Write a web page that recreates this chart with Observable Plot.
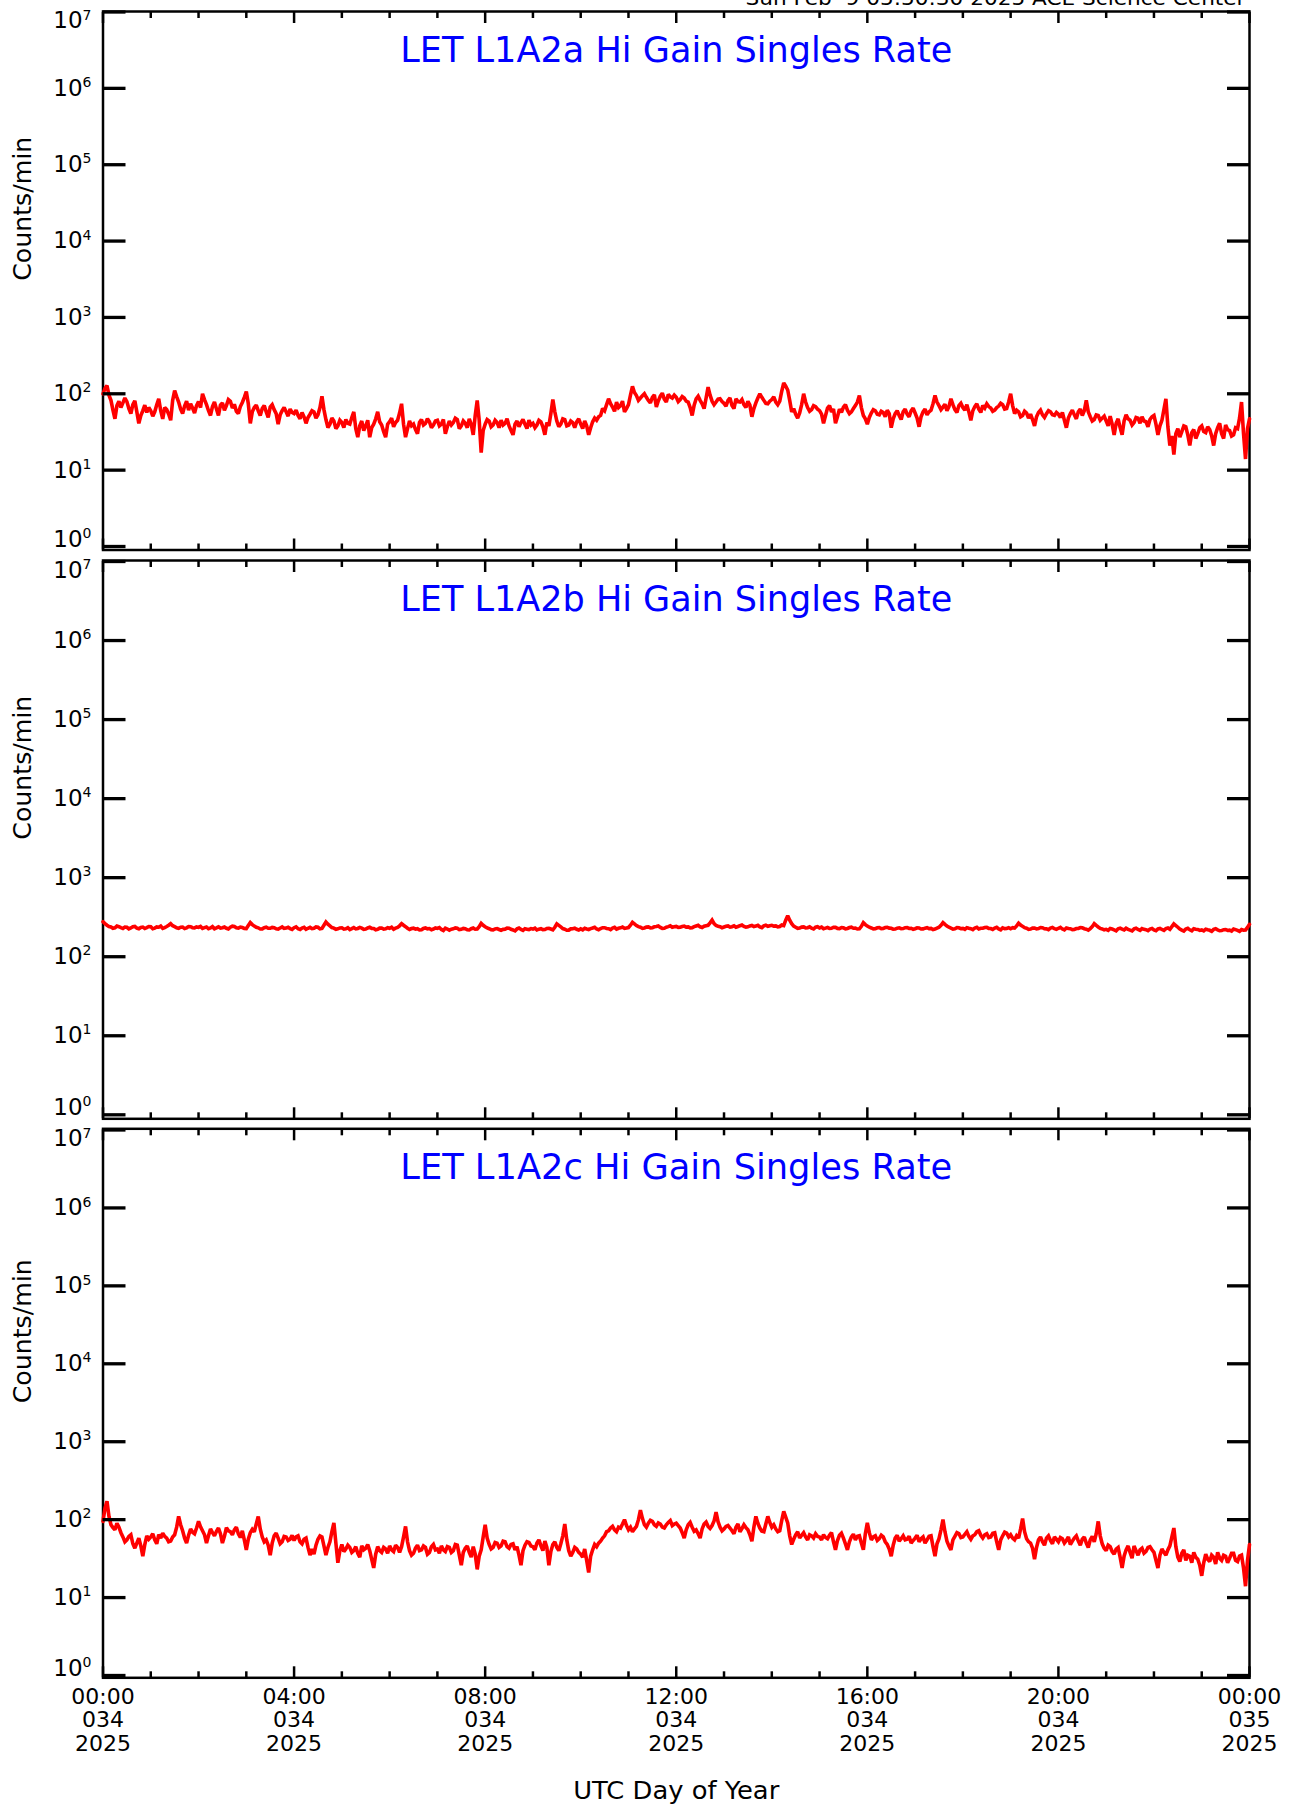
<!DOCTYPE html>
<html><head><meta charset="utf-8">
<script src="https://cdn.jsdelivr.net/npm/d3@7"></script>
<script src="https://cdn.jsdelivr.net/npm/@observablehq/plot@0.6"></script>
<style>
html,body{margin:0;padding:0;background:#fff;}
#page{position:relative;width:1300px;height:1806px;overflow:hidden;background:#fff;}
#page svg{position:absolute;left:0;}
</style></head><body><div id="page"></div>
<script>
const panelTitles = ["LET L1A2a Hi Gain Singles Rate","LET L1A2b Hi Gain Singles Rate","LET L1A2c Hi Gain Singles Rate"];
const headerText = "Sun Feb  9 05:50:30 2025 ACE Science Center";
const yLabel = "Counts/min";
const xLabel = "UTC Day of Year";
const yTickExponents = [0,1,2,3,4,5,6,7];
const majorHours = [0,4,8,12,16,20,24];
const minorHours = [1,2,3,5,6,7,9,10,11,13,14,15,17,18,19,21,22,23];
const timeLabels = ["00:00","04:00","08:00","12:00","16:00","20:00","00:00"];
const dayLabels = ["034","034","034","034","034","034","035"];
const yearLabels = ["2025","2025","2025","2025","2025","2025","2025"];
const spanHours = 24;

// LET L1A2a, 2.5-minute samples (24 per row = 1 hour) from 00:00 day 034 to 00:00 day 035
const rateA = [
100,118,128,96,82,61,47,70,80,66,76,88,79,64,55,72,81,58,41,52,60,71,57,66,
60,51,58,72,86,60,47,66,62,54,45,82,110,92,78,63,55,69,80,61,74,65,56,70,
79,66,100,84,72,60,52,68,78,63,52,71,76,61,70,84,80,65,73,59,55,68,77,90,
107,74,41,58,66,71,60,52,64,70,58,49,67,72,62,55,40,53,60,66,58,51,63,57,
55,61,52,47,57,50,41,49,54,60,58,48,53,66,93,62,46,36,40,48,44,35,38,45,
42,36,46,41,40,49,58,35,27,38,44,33,38,45,27,36,40,47,58,43,39,32,27,40,
43,48,37,42,45,56,74,40,27,35,44,38,40,34,30,42,46,39,41,47,43,36,39,44,
45,38,40,46,30,37,44,39,42,48,46,35,38,44,41,36,47,40,29,52,82,45,17,33,
40,46,44,37,39,45,42,36,45,39,41,47,38,33,29,40,44,37,42,46,40,35,45,39,
41,36,39,45,43,37,29,42,38,55,84,58,44,37,40,47,46,38,39,44,42,36,43,47,
40,35,44,38,29,36,43,48,45,50,52,64,60,72,86,74,67,59,78,66,70,80,58,64,
72,96,125,104,95,82,88,94,100,90,82,76,90,97,67,81,93,102,85,78,98,91,88,96,
90,79,84,92,88,80,78,66,52,71,86,93,82,74,64,88,122,96,80,72,78,85,86,79,
75,69,82,88,70,64,86,79,78,84,72,66,80,71,50,64,76,88,100,90,82,75,74,80,
84,91,78,72,80,108,139,126,112,82,58,64,54,48,56,72,100,78,66,59,62,70,68,63,
60,54,41,52,65,70,58,63,41,50,63,57,67,72,61,55,58,64,70,78,95,66,52,47,
40,49,56,62,60,54,53,59,57,50,61,55,36,47,55,60,52,46,58,63,54,50,60,65,
56,48,37,50,58,63,53,58,61,74,95,78,70,62,67,73,60,68,86,72,62,57,70,75,
66,61,72,58,45,60,68,74,63,57,70,65,74,68,65,59,61,66,69,75,72,63,64,78,
100,70,55,61,58,50,52,59,56,48,54,46,38,50,57,61,53,49,55,60,58,53,52,57,
54,49,57,45,36,48,55,61,53,47,58,63,52,60,82,58,50,44,46,53,52,45,48,51,
44,38,51,40,29,41,47,36,29,44,53,47,45,39,42,49,48,41,50,44,43,37,46,50,
52,40,29,38,45,62,86,37,21,28,16,30,35,27,32,38,37,29,21,31,34,26,30,36,
38,32,31,37,34,28,21,30,36,41,30,26,39,34,33,28,29,36,35,48,78,30,14,35,
47];

// LET L1A2b
const rateB = [
277,262,250,241,238,229,232,244,240,233,228,237,236,225,231,239,242,230,226,235,237,228,233,241,
239,226,230,238,236,244,228,234,241,250,262,247,240,232,229,236,237,227,232,241,240,233,231,238,
235,242,228,233,238,226,231,240,226,232,239,230,233,238,229,224,236,243,241,232,230,237,234,228,
227,248,270,255,244,236,232,224,225,233,236,229,229,235,233,226,224,231,238,228,230,236,227,222,
233,239,226,221,231,236,222,229,235,227,229,238,236,225,228,250,275,258,246,234,230,222,225,231,
232,224,226,233,221,227,234,225,228,235,230,222,224,231,236,228,227,219,222,230,231,224,226,233,
229,236,223,230,235,246,262,250,240,229,221,227,230,223,226,218,219,228,232,225,227,219,224,231,
228,234,221,215,230,224,217,223,225,231,229,220,222,228,226,219,218,226,231,223,224,240,264,250,
240,231,226,220,219,225,227,221,216,222,223,230,229,222,218,212,225,230,221,215,226,223,220,227,
224,230,218,223,227,220,221,228,229,224,219,236,260,249,238,227,223,216,217,225,226,230,222,218,
225,219,229,224,221,227,231,236,224,219,227,233,233,228,226,220,230,235,223,229,232,237,228,231,
234,250,272,260,248,240,236,229,231,237,238,231,233,239,241,245,235,228,229,236,240,246,236,239,
242,235,236,241,244,237,238,231,233,240,245,250,239,234,243,247,250,268,290,262,248,243,240,233,
238,243,245,237,240,246,236,241,247,252,242,236,239,245,249,241,244,250,238,233,246,251,243,247,
250,244,245,238,241,252,248,290,330,290,262,244,236,228,230,237,238,231,233,239,229,224,236,240,
231,237,226,230,234,228,229,236,235,228,227,233,232,225,228,234,236,229,230,224,225,242,270,255,
244,236,231,225,226,232,233,227,228,234,235,230,229,223,224,230,232,226,227,233,234,228,229,222,
226,232,231,224,225,230,233,227,228,221,224,230,236,250,270,256,244,236,230,224,226,233,232,226,
228,222,233,229,226,220,231,236,224,229,229,234,235,228,227,221,230,236,225,219,232,227,228,233,
226,233,230,245,266,252,242,233,229,222,224,230,231,225,227,234,233,226,225,220,230,235,226,222,
229,235,224,219,231,227,226,220,221,227,228,234,232,226,223,217,227,240,262,249,238,228,225,219,
222,216,228,224,219,213,226,230,223,218,229,222,217,212,225,229,221,215,227,222,220,214,224,228,
218,213,225,228,221,215,227,231,222,240,260,248,236,224,217,211,224,229,219,213,226,223,221,215,
218,212,223,219,216,210,222,226,219,213,214,220,221,215,217,211,224,220,215,209,220,216,218,235,
257];

// LET L1A2c
const rateC = [
95,140,172,110,86,79,74,90,80,68,60,52,55,61,64,49,43,50,58,46,34,48,62,56,
60,66,55,49,64,58,67,61,58,52,53,60,64,80,110,86,72,58,50,63,76,69,66,78,
95,81,72,64,50,62,76,68,62,71,78,66,50,61,79,72,70,64,74,80,66,59,72,55,
41,56,68,75,70,88,110,76,60,52,55,47,35,50,62,67,58,49,52,61,60,54,56,63,
54,60,62,52,49,56,58,44,35,42,36,47,56,62,60,46,35,44,52,70,91,50,28,40,
48,39,42,47,44,38,40,45,37,33,46,41,43,48,40,31,24,36,45,40,38,44,42,37,
46,41,39,47,44,38,45,60,82,52,40,35,37,43,47,40,41,46,44,36,38,45,48,41,
42,37,46,41,39,45,44,38,40,48,47,35,26,38,43,46,38,33,45,36,23,34,41,60,
86,58,48,42,44,51,50,44,46,53,52,45,43,48,49,41,45,35,26,40,47,52,51,46,
45,41,50,55,46,40,53,44,26,39,48,52,44,40,49,62,88,55,40,34,38,44,42,38,
36,33,42,30,21,34,41,48,45,50,53,58,62,70,72,78,82,74,70,80,78,88,100,84,
74,80,70,76,82,100,132,104,86,80,90,98,95,86,82,91,88,80,78,86,92,97,84,88,
90,84,78,68,58,74,86,92,80,71,74,66,58,76,88,93,82,77,84,96,125,94,80,72,
76,82,84,78,72,66,80,88,70,77,86,79,74,64,53,80,110,90,78,71,70,88,110,92,
80,86,76,70,72,98,128,108,91,62,48,56,64,70,58,63,68,60,55,64,62,58,66,61,
60,55,64,59,57,63,68,52,41,54,63,67,58,49,41,52,60,65,55,61,62,50,41,66,
91,68,55,60,62,54,57,63,60,52,48,42,34,47,58,63,53,57,62,55,56,61,50,54,
58,63,52,57,60,50,55,61,62,45,34,49,57,74,100,70,53,46,41,55,61,68,66,59,
60,65,70,61,56,62,64,70,72,63,58,64,66,59,60,67,68,52,41,55,62,69,67,60,
64,58,55,62,58,76,103,70,57,52,50,43,31,44,55,60,52,47,58,62,54,49,60,56,
52,59,57,50,54,60,48,53,58,62,53,47,56,60,50,44,55,61,52,66,95,62,49,43,
40,47,45,39,36,42,44,33,24,34,41,46,38,32,46,40,35,41,43,37,39,44,45,41,
38,30,24,35,42,38,35,41,46,60,78,45,33,29,37,41,30,35,34,28,38,33,31,26,
19,28,36,31,29,35,33,27,38,32,30,35,34,28,32,37,37,30,29,34,35,24,14,30,
48];

const seriesList = [rateA, rateB, rateC];

// layout (page pixels)
const layout = [
  {svgTop: 0,    svgHeight: 555, frameTop: 11,     frameBottom: 549.5,  y7: 11.5,   y0: 546},
  {svgTop: 555,  svgHeight: 568, frameTop: 560,    frameBottom: 1118.3, y7: 561,    y0: 1114.3},
  {svgTop: 1123, svgHeight: 683, frameTop: 1128.3, frameBottom: 1677.3, y7: 1129.5, y0: 1675}
];
const W = 1300, ML = 102.5, MR = 51;
const yTicks = yTickExponents.map(e => Math.pow(10, e));
const font = "'DejaVu Sans', 'Liberation Sans', sans-serif";
const page = document.getElementById("page");

layout.forEach((L, p) => {
  const vals = seriesList[p];
  const data = vals.map((v, i) => ({h: i * spanHours / (vals.length - 1), v}));
  const tickOpts = {fill: "none", label: null, stroke: "black"};
  const marks = [
    Plot.frame({stroke: "black", strokeWidth: 2.5}),
    Plot.line(data, {x: "h", y: "v", stroke: "#ff0000", strokeWidth: 3.6, strokeLinejoin: "miter", strokeMiterlimit: 2}),
    Plot.axisY(yTicks, {...tickOpts, anchor: "left", tickSize: -23, strokeWidth: 3.3}),
    Plot.axisY(yTicks, {...tickOpts, anchor: "right", tickSize: -23, strokeWidth: 3.3}),
    Plot.axisX(minorHours, {...tickOpts, anchor: "bottom", tickSize: -6, strokeWidth: 2.5}),
    Plot.axisX(majorHours, {...tickOpts, anchor: "bottom", tickSize: -11, strokeWidth: 2.5}),
    Plot.axisX(minorHours, {...tickOpts, anchor: "top", tickSize: -6, strokeWidth: 2.5}),
    Plot.axisX(majorHours, {...tickOpts, anchor: "top", tickSize: -11, strokeWidth: 2.5}),
    Plot.text(yTicks.filter(t => t > 1 && t < 1e7), {y: d => d, frameAnchor: "left", dx: -11.5, textAnchor: "end", lineAnchor: "middle", fontSize: 23, text: d => "10^" + Math.round(Math.log10(d))}),
    Plot.text(yTicks.filter(t => t === 1e7), {y: d => d, frameAnchor: "left", dx: -11.5, textAnchor: "end", lineAnchor: "top", fontSize: 23, text: d => "10^" + Math.round(Math.log10(d))}),
    Plot.text(yTicks.filter(t => t === 1), {y: d => d, frameAnchor: "left", dx: -11.5, textAnchor: "end", lineAnchor: "bottom", fontSize: 23, text: d => "10^" + Math.round(Math.log10(d))}),
    Plot.text([panelTitles[p]], {frameAnchor: "top", dy: 25.5, lineAnchor: "top", fill: "#0000ff", fontSize: 35, text: d => d}),
    Plot.text([yLabel], {frameAnchor: "left", dx: -79.5, rotate: -90, fontSize: 24, text: d => d})
  ];
  if (p === 0) {
    marks.push(Plot.text([headerText], {frameAnchor: "top-right", dx: -4, dy: -7, lineAnchor: "bottom", textAnchor: "end", fontSize: 20, text: d => d}));
  }
  if (p === 2) {
    marks.push(Plot.text(majorHours, {x: d => d, frameAnchor: "bottom", lineAnchor: "top", dy: 9, fontSize: 22, lineHeight: 1.07,
      text: (d, i) => timeLabels[i] + "\n" + dayLabels[i] + "\n" + yearLabels[i]}));
    marks.push(Plot.text([xLabel], {frameAnchor: "bottom", lineAnchor: "top", dy: 104, fontSize: 24, text: d => d}));
  }
  const svg = Plot.plot({
    width: W, height: L.svgHeight,
    marginLeft: ML, marginRight: MR,
    marginTop: L.frameTop - L.svgTop,
    marginBottom: L.svgTop + L.svgHeight - L.frameBottom,
    style: {fontFamily: font, background: "transparent", overflow: "visible", color: "black"},
    x: {domain: [0, spanHours]},
    y: {type: "log", domain: [1, 1e7], range: [L.y0 - L.svgTop, L.y7 - L.svgTop]},
    marks
  });
  svg.style.top = L.svgTop + "px";
  svg.querySelectorAll("text").forEach(t => {
    const s = t.textContent;
    const m = /^10\^(\d)$/.exec(s);
    if (m) {
      t.textContent = "10";
      const ts = document.createElementNS("http://www.w3.org/2000/svg", "tspan");
      ts.setAttribute("font-size", "14");
      ts.setAttribute("dy", "-0.62em");
      ts.textContent = m[1];
      t.appendChild(ts);
    } else if (panelTitles.includes(s)) {
      t.setAttribute("textLength", "552");
      t.setAttribute("lengthAdjust", "spacingAndGlyphs");
    } else if (s === headerText) {
      t.setAttribute("textLength", "500");
      t.setAttribute("lengthAdjust", "spacingAndGlyphs");
    } else if (s === yLabel) {
      t.setAttribute("textLength", "144");
      t.setAttribute("lengthAdjust", "spacingAndGlyphs");
    } else if (s === xLabel) {
      t.setAttribute("textLength", "206");
      t.setAttribute("lengthAdjust", "spacingAndGlyphs");
    }
  });
  page.appendChild(svg);
});
</script></body></html>
